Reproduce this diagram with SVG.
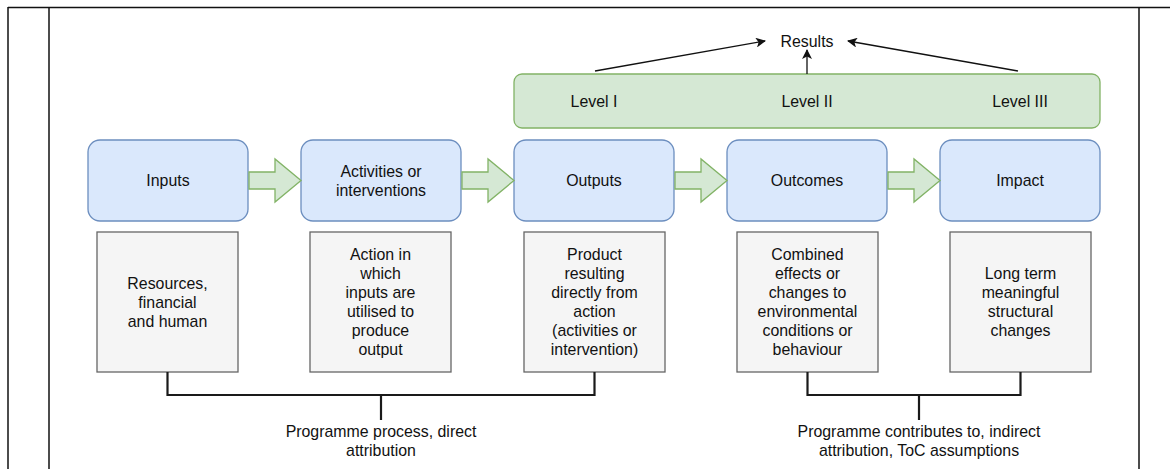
<svg xmlns="http://www.w3.org/2000/svg" width="1170" height="469" viewBox="0 0 1170 469">
<defs>
<style>
.t{font-family:"Liberation Sans",Arial,sans-serif;font-size:15.9px;fill:#111111;text-anchor:middle;dominant-baseline:central}
.blue{fill:#dae8fc;stroke:#6c8ebf;stroke-width:1.3}
.green{fill:#d5e8d4;stroke:#82b366;stroke-width:1.3}
.gray{fill:#f5f5f5;stroke:#666666;stroke-width:1.3}
.blk{fill:#d5e8d4;stroke:#82b366;stroke-width:1.3}
.br{fill:none;stroke:#1a1a1a;stroke-width:2.2}
.ln{fill:none;stroke:#111;stroke-width:1.3}
.frame{fill:none;stroke:#111;stroke-width:1.5}
</style>
<marker id="ah" markerWidth="10" markerHeight="10" refX="9" refY="5" orient="auto" markerUnits="userSpaceOnUse">
<path d="M0,0 L10,5 L0,10 L2.5,5 Z" fill="#111"/>
</marker>
</defs>
<rect width="1170" height="469" fill="#ffffff"/>
<g id="frame">
<line class="frame" x1="8" y1="7.5" x2="1170" y2="7.5"/>
<line class="frame" x1="8" y1="7" x2="8" y2="469"/>
<line class="frame" x1="49" y1="7" x2="49" y2="469"/>
<line class="frame" x1="1139" y1="7" x2="1139" y2="469"/>
</g>
<g id="levels">
<rect class="green" x="514" y="74" width="586" height="54" rx="8"/>
<text class="t" x="594" y="101">Level I</text>
<text class="t" x="807" y="101">Level II</text>
<text class="t" x="1020" y="101">Level III</text>
</g>
<g id="results">
<text class="t" x="807" y="41">Results</text>
</g>
<g id="inputs">
<rect class="blue" x="88" y="140" width="160" height="81" rx="12"/>
<text class="t" x="168" y="180">Inputs</text>
</g>
<g id="activities">
<rect class="blue" x="301" y="140" width="160" height="81" rx="12"/>
<text class="t" x="381" y="171">Activities or</text>
<text class="t" x="381" y="190">interventions</text>
</g>
<g id="outputs">
<rect class="blue" x="514" y="140" width="160" height="81" rx="12"/>
<text class="t" x="594" y="180">Outputs</text>
</g>
<g id="outcomes">
<rect class="blue" x="727" y="140" width="160" height="81" rx="12"/>
<text class="t" x="807" y="180">Outcomes</text>
</g>
<g id="impact">
<rect class="blue" x="940" y="140" width="160" height="81" rx="12"/>
<text class="t" x="1020" y="180">Impact</text>
</g>
<g id="inputs-desc">
<rect class="gray" x="97" y="232" width="141" height="140"/>
<text class="t" x="167.5" y="283">Resources,</text>
<text class="t" x="167.5" y="302">financial</text>
<text class="t" x="167.5" y="321">and human</text>
</g>
<g id="activities-desc">
<rect class="gray" x="310" y="232" width="141" height="140"/>
<text class="t" x="380.5" y="254">Action in</text>
<text class="t" x="380.5" y="273">which</text>
<text class="t" x="380.5" y="292">inputs are</text>
<text class="t" x="380.5" y="311">utilised to</text>
<text class="t" x="380.5" y="330">produce</text>
<text class="t" x="380.5" y="349">output</text>
</g>
<g id="outputs-desc">
<rect class="gray" x="524" y="232" width="141" height="140"/>
<text class="t" x="594.5" y="254">Product</text>
<text class="t" x="594.5" y="273">resulting</text>
<text class="t" x="594.5" y="292">directly from</text>
<text class="t" x="594.5" y="311">action</text>
<text class="t" x="594.5" y="330">(activities or</text>
<text class="t" x="594.5" y="349">intervention)</text>
</g>
<g id="outcomes-desc">
<rect class="gray" x="737" y="232" width="141" height="140"/>
<text class="t" x="807.5" y="254">Combined</text>
<text class="t" x="807.5" y="273">effects or</text>
<text class="t" x="807.5" y="292">changes to</text>
<text class="t" x="807.5" y="311">environmental</text>
<text class="t" x="807.5" y="330">conditions or</text>
<text class="t" x="807.5" y="349">behaviour</text>
</g>
<g id="impact-desc">
<rect class="gray" x="950" y="232" width="141" height="140"/>
<text class="t" x="1020.5" y="273">Long term</text>
<text class="t" x="1020.5" y="292">meaningful</text>
<text class="t" x="1020.5" y="311">structural</text>
<text class="t" x="1020.5" y="330">changes</text>
</g>
<g id="label-direct">
<text class="t" x="381" y="431">Programme process, direct</text>
<text class="t" x="381" y="450">attribution</text>
</g>
<g id="label-indirect">
<text class="t" x="919" y="431">Programme contributes to, indirect</text>
<text class="t" x="919" y="450">attribution, ToC assumptions</text>
</g>
<g id="connectors">
<path class="blk" d="M249,172 H275 V159 L301,180.5 L275,202 V189 H249 Z"/>
<path class="blk" d="M462,172 H488 V159 L514,180.5 L488,202 V189 H462 Z"/>
<path class="blk" d="M675,172 H701 V159 L727,180.5 L701,202 V189 H675 Z"/>
<path class="blk" d="M888,172 H914 V159 L940,180.5 L914,202 V189 H888 Z"/>
<line class="ln" x1="595" y1="71" x2="765" y2="41" marker-end="url(#ah)"/>
<line class="ln" x1="807" y1="74" x2="807" y2="50" marker-end="url(#ah)"/>
<line class="ln" x1="1018" y1="71" x2="848" y2="41" marker-end="url(#ah)"/>
<path class="br" d="M167.5,372 V395 H594.5 V372"/>
<path class="br" d="M381,395 V420"/>
<path class="br" d="M807.5,372 V395 H1020.5 V372"/>
<path class="br" d="M919,395 V420"/>
</g>
</svg>
